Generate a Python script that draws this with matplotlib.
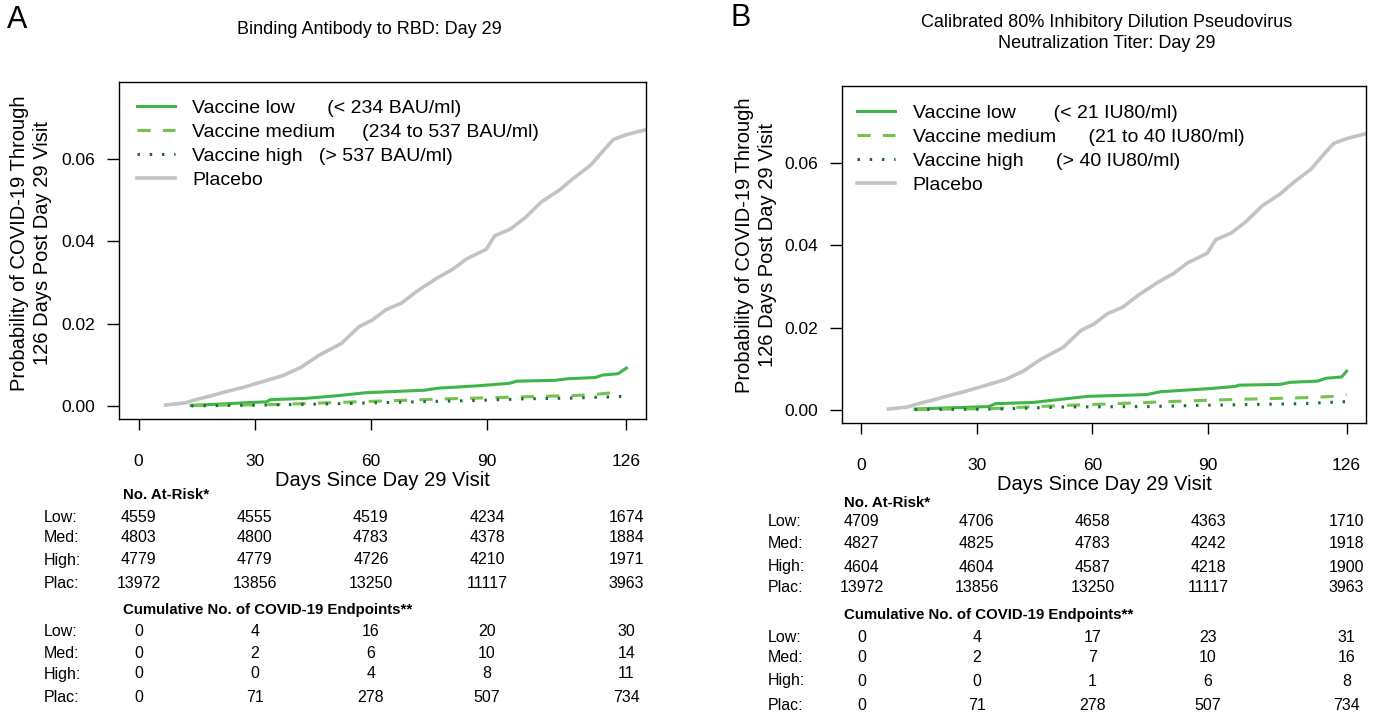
import matplotlib
matplotlib.use("Agg")
import matplotlib.pyplot as plt
import matplotlib.transforms as mtransforms

plt.rcParams['font.family'] = ['Liberation Sans', 'DejaVu Sans']

W, H = 1377, 713

# ---- data ----
xticks = [0, 30, 60, 90, 126]
groups = ["Low:", "Med:", "High:", "Plac:"]

placebo_days = [7, 12, 14.4, 19, 22.4, 27, 32.8, 37.4, 42, 46.6, 52.4, 57, 60.4, 63.9, 67.9,
                71.9, 77.1, 81.1, 84.6, 89.8, 92, 96, 100, 104, 108.7, 112.2, 116.8, 120.2,
                122.6, 126, 131]
placebo_prob = [0.0002, 0.0007, 0.0014, 0.0025, 0.0034, 0.0045, 0.0061, 0.0074, 0.0094, 0.0123,
                0.0152, 0.0193, 0.0209, 0.0234, 0.0250, 0.0279, 0.0311, 0.0332, 0.0357, 0.0381,
                0.0414, 0.0430, 0.0459, 0.0496, 0.0525, 0.0553, 0.0586, 0.0623, 0.0648, 0.0660,
                0.0672]

# panel A: binding antibody
a_low_days = [13.6, 33.1, 34, 42.9, 51.7, 58.7, 73.8, 77.3, 87.9, 95.9, 97.6, 107.4, 110.9, 118, 119.8, 123.8, 126]
a_low_prob = [0.0001, 0.0010, 0.0015, 0.0018, 0.0025, 0.0032, 0.0038, 0.0043, 0.0049, 0.0055, 0.0060,
              0.0062, 0.0066, 0.0069, 0.0075, 0.0078, 0.0092]
a_med_days = [13.6, 34.7, 50.5, 66.8, 79.2, 91.5, 103.9, 111.9, 117.1, 122.4, 124.6]
a_med_prob = [0.0001, 0.0003, 0.0008, 0.0013, 0.0017, 0.0020, 0.0023, 0.0025, 0.0027, 0.0032, 0.0034]
a_high_days = [13.6, 33, 55.2, 67.6, 87, 99.4, 112.7, 125.5]
a_high_prob = [0.0000, 0.0002, 0.0006, 0.0009, 0.0013, 0.0017, 0.0019, 0.0023]

a_at_risk = [[4559, 4555, 4519, 4234, 1674],
             [4803, 4800, 4783, 4378, 1884],
             [4779, 4779, 4726, 4210, 1971],
             [13972, 13856, 13250, 11117, 3963]]
a_events = [[0, 4, 16, 20, 30],
            [0, 2, 6, 10, 14],
            [0, 0, 4, 8, 11],
            [0, 71, 278, 507, 734]]

# panel B: neutralization titer
b_low_days = [13.9, 33.1, 34.8, 44.6, 58.9, 74, 77.6, 90.9, 97.1, 98, 108.7, 111.4, 118.5, 120.7, 124.7, 126]
b_low_prob = [0.0002, 0.0008, 0.0015, 0.0018, 0.0033, 0.0037, 0.0044, 0.0052, 0.0057, 0.0060,
              0.0062, 0.0067, 0.0070, 0.0077, 0.0080, 0.0094]
b_med_days = [13.9, 34, 42.9, 53.6, 66, 79.4, 91.8, 104.3, 116.7, 122.9, 126]
b_med_prob = [0.0001, 0.0003, 0.0007, 0.0011, 0.0015, 0.0020, 0.0024, 0.0027, 0.0030, 0.0033, 0.0037]
b_high_days = [13.9, 35.6, 52.7, 74.9, 88.3, 101.6, 114.1, 126]
b_high_prob = [0.0001, 0.0002, 0.0007, 0.0008, 0.0011, 0.0013, 0.0015, 0.0020]

b_at_risk = [[4709, 4706, 4658, 4363, 1710],
             [4827, 4825, 4783, 4242, 1918],
             [4604, 4604, 4587, 4218, 1900],
             [13972, 13856, 13250, 11117, 3963]]
b_events = [[0, 4, 17, 23, 31],
            [0, 2, 7, 10, 16],
            [0, 0, 1, 6, 8],
            [0, 71, 278, 507, 734]]

# ---- styles ----
c_low = "#3DB54A"
c_med = "#72C34F"
c_high = "#1F6B35"
c_plac = "#C3C3C3"


def fx(x):
    return x / W


def fy(y):
    return 1 - y / H


panels = [
    dict(letter="A", letter_pos=(17, 20), title="Binding Antibody to RBD: Day 29", title_pos=(369, 30),
         box=(119, 82, 646, 419), ylab_x=31, ylab_y=243, xlab_y=481,
         labels=["Vaccine low      (< 234 BAU/ml)", "Vaccine medium     (234 to 537 BAU/ml)",
                 "Vaccine high   (> 537 BAU/ml)", "Placebo"],
         leg_anchor=(0.034, 0.948),
         low=(a_low_days, a_low_prob), med=(a_med_days, a_med_prob), high=(a_high_days, a_high_prob),
         at_risk=a_at_risk, events=a_events, lab_x=44, head_x=123,
         risk_y=[495, 517, 538, 560, 583], ev_y=[610, 632, 653, 674, 698]),
    dict(letter="B", letter_pos=(741, 18),
         title="Calibrated 80% Inhibitory Dilution Pseudovirus\nNeutralization Titer: Day 29",
         title_pos=(1107, 33),
         box=(842, 86, 1366, 423), ylab_x=756, ylab_y=245, xlab_y=484,
         labels=["Vaccine low       (< 21 IU80/ml)", "Vaccine medium      (21 to 40 IU80/ml)",
                 "Vaccine high      (> 40 IU80/ml)", "Placebo"],
         leg_anchor=(0.029, 0.946),
         low=(b_low_days, b_low_prob), med=(b_med_days, b_med_prob), high=(b_high_days, b_high_prob),
         at_risk=b_at_risk, events=b_events, lab_x=768, head_x=844,
         risk_y=[503, 522, 544, 567, 587], ev_y=[615, 637, 658, 681, 705]),
]

fig = plt.figure(figsize=(W / 100, H / 100), dpi=100)

for p in panels:
    x0, y0, x1, y1 = p["box"]
    ax = fig.add_axes([fx(x0), fy(y1), (x1 - x0) / W, (y1 - y0) / H])

    ax.plot(placebo_days, placebo_prob, color=c_plac, lw=2.6, label=p["labels"][3], zorder=2)
    ax.plot(*p["low"], color=c_low, lw=2.2, label=p["labels"][0], zorder=3)
    ax.plot(*p["med"], color=c_med, lw=2.2, dashes=(4.3, 4), label=p["labels"][1], zorder=3)
    ax.plot(*p["high"], color=c_high, lw=2.2, dashes=(0.8, 3.2), label=p["labels"][2], zorder=4)

    ax.set_xlim(-5.04, 131.04)
    ax.set_ylim(-0.0032, 0.0788)
    ax.set_xticks(xticks)
    ax.set_yticks([0, 0.02, 0.04, 0.06])
    ax.set_yticklabels(["0.00", "0.02", "0.04", "0.06"])
    ax.tick_params(axis="x", direction="out", length=8, width=1, pad=17, labelsize=12.5)
    ax.tick_params(axis="y", direction="out", length=9, width=1, pad=8, labelsize=12.5)
    for s in ax.spines.values():
        s.set_linewidth(1.0)

    # legend in R order
    h, l = ax.get_legend_handles_labels()
    order = [1, 2, 3, 0]
    ax.legend([h[i] for i in order], [l[i] for i in order], loc="upper left",
              bbox_to_anchor=p["leg_anchor"], frameon=False, fontsize=14,
              handlelength=1.95, handletextpad=0.9, labelspacing=0.33,
              borderpad=0, borderaxespad=0)

    fig.text(fx(p["letter_pos"][0]), fy(p["letter_pos"][1]), p["letter"], fontsize=22,
             ha="center", va="center")
    fig.text(fx(p["title_pos"][0]), fy(p["title_pos"][1]), p["title"], fontsize=13,
             ha="center", va="center", linespacing=1.3)
    fig.text(fx(p["ylab_x"]), fy(p["ylab_y"]),
             "Probability of COVID-19 Through\n126 Days Post Day 29 Visit",
             rotation=90, fontsize=14.5, ha="center", va="center", linespacing=1.25)
    fig.text(fx((x0 + x1) / 2), fy(p["xlab_y"]), "Days Since Day 29 Visit", fontsize=14.5,
             ha="center", va="center")

    # at-risk / endpoint tables, columns placed on the day axis
    tr = mtransforms.blended_transform_factory(ax.transData, fig.transFigure)
    for head, table, ys in [("No. At-Risk*", p["at_risk"], p["risk_y"]),
                            ("Cumulative No. of COVID-19 Endpoints**", p["events"], p["ev_y"])]:
        fig.text(fx(p["head_x"]), fy(ys[0]), head, fontsize=10.8, fontweight="bold",
                 ha="left", va="center")
        for g, row, yy in zip(groups, table, ys[1:]):
            fig.text(fx(p["lab_x"]), fy(yy), g, fontsize=11.5, ha="left", va="center")
            for d, v in zip(xticks, row):
                ax.text(d, fy(yy), str(v), transform=tr, fontsize=11.5, ha="center", va="center",
                        clip_on=False)

fig.savefig("out.png", dpi=100)
